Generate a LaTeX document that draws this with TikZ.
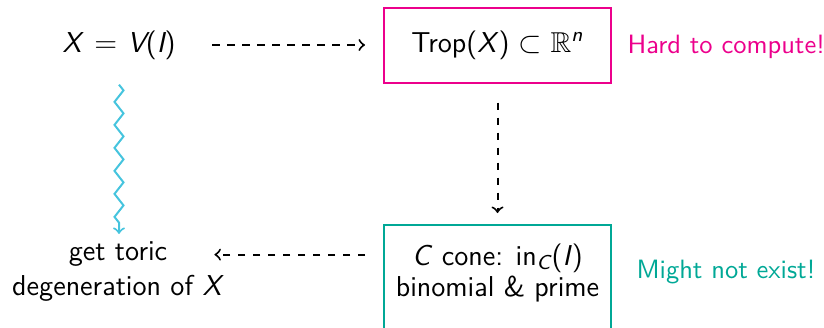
\documentclass[tikz,border=0pt]{standalone}
\usepackage{amsmath,amssymb}
\usetikzlibrary{calc,decorations.pathmorphing}

\definecolor{hotpink}{RGB}{236,0,140}
\definecolor{seagreen}{RGB}{0,168,150}
\definecolor{skycyan}{RGB}{70,196,222}

\tikzset{
  txt/.style={inner sep=3.5pt},
  pinkbox/.style={draw=hotpink, line width=0.8pt, minimum width=90.8pt, minimum height=30pt, inner sep=3.5pt},
  tealbox/.style={draw=seagreen, line width=0.8pt, minimum width=90.8pt, align=center,
    inner xsep=3.5pt, inner ysep=7.4pt, font=\fontsize{11.5}{12.4}\selectfont\sffamily},
  dasharrow/.style={->, dashed, line width=0.8pt, black},
  squiggle/.style={->, skycyan, line width=0.8pt, decorate,
    decoration={zigzag, segment length=9.2pt, amplitude=1.8pt, post length=2pt}},
  remark/.style={inner sep=0pt, font=\fontsize{10.6}{12.7}\selectfont\sffamily},
}

\begin{document}
\begin{tikzpicture}[x=0.4pt, y=-0.4pt, font=\fontsize{11.5}{13.8}\selectfont\sffamily]
  \useasboundingbox (0,0) rectangle (824,327);
  \clip (0,0) rectangle (824,327);

  % top row
  \node[txt] (xv) at (119,45) {$\textsl{X}\mkern3mu=\mkern1mu\textsl{V}\text{(}\textsl{I}\text{)}$};
  \node[pinkbox] (trop) at (497.5,45) {Trop(\textsl{X}) $\subset\mathbb{R}^{\textsl{n}}$};
  \node[remark, anchor=base west, text=hotpink] (hard) at (627,53) {Hard to compute!};

  % bottom row
  \node[tealbox, anchor=north] (cone) at (497.5,224)
    {\textsl{C} cone: in$_{\textsl{C}}$(\textsl{I})\\ binomial \& prime\\[30pt]\mbox{}};
  \node[remark, anchor=base west, text=seagreen] (exist) at (636,278) {Might not exist!};
  \node[txt, anchor=base] (toric) at (118,260) {get toric};
  \node[txt, anchor=base] (degen) at (118,295) {degeneration of \textsl{X}};

  % connectors
  \draw[dasharrow, shorten <=11pt, shorten >=7.2pt] (xv.east) -- (xv.east -| trop.west);
  \draw[dasharrow, shorten <=7.6pt, shorten >=4.4pt] (trop.south) -- (cone.north);
  \draw[dasharrow, shorten <=7.2pt, shorten >=15.2pt] (toric.mid east -| cone.west) -- (toric.mid east);
  \draw[squiggle] ($(xv.south)+(0,16)$) -- ($(xv.south |- toric.north)+(0,2)$);
\end{tikzpicture}
\end{document}
